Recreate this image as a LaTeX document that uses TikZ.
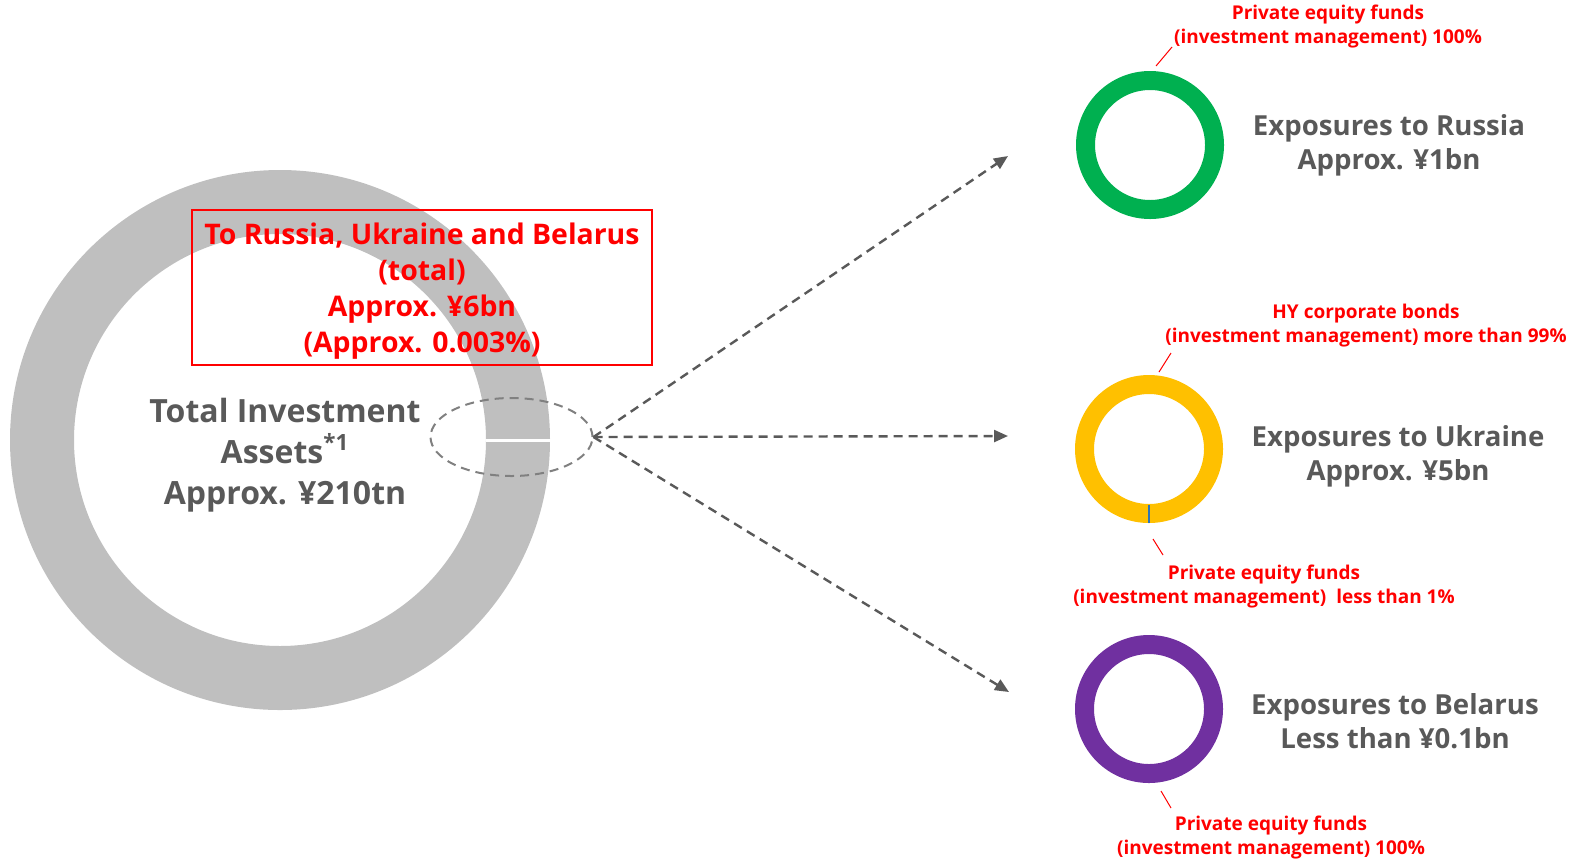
\documentclass[tikz,border=0pt]{standalone}
\usepackage{fontspec}
\setmainfont{Open Sans}
\usetikzlibrary{arrows.meta,shapes.geometric}
\definecolor{ringgray}{HTML}{BFBFBF}
\definecolor{txtgray}{HTML}{595959}
\definecolor{dashgray}{HTML}{808080}
\definecolor{rusgreen}{HTML}{00B050}
\definecolor{ukryellow}{HTML}{FFC000}
\definecolor{blrpurple}{HTML}{7030A0}
\definecolor{markblue}{HTML}{2E75B6}

\begin{document}
\begin{tikzpicture}[x=0.5pt, y=-0.5pt,
	bigtxt/.style = {font=\bfseries\fontsize{13.8}{17}\selectfont, text=txtgray, align=center},
	totaltxt/.style = {font=\bfseries\fontsize{16}{20.5}\selectfont, text=txtgray, align=center},
	boxtxt/.style = {font=\bfseries\fontsize{14.2}{18}\selectfont, text=red, align=center},
	notetxt/.style = {font=\bfseries\fontsize{9.5}{12}\selectfont, text=red, align=center},
	leader/.style = {red, line width=0.5pt},
	ring/.style = {line width=9.5pt},
	flow/.style = {txtgray, line width=1.2pt, dash pattern=on 4.5pt off 3pt, -{Triangle[length=7pt, width=6pt]}}]
	\useasboundingbox (0, 0) rectangle (1573, 858);
	
	% big ring
	\fill[ringgray, even odd rule] (280, 440) circle (270) (280, 440) circle (206);
	\fill[white] (486, 438.5) rectangle (553, 441.5);
	
	\node[totaltxt] (total) at (285, 455) {Total Investment\\Assets\textsuperscript{*1}\\Approx. ¥210tn};
	\node[boxtxt, draw=red, line width=1pt, minimum width=230pt, minimum height=77.5pt, inner sep=0pt] (sum) at (422, 287.5) {};
	\node[boxtxt] (sumtxt) at (422, 291.5) {To Russia, Ukraine and Belarus\\(total)\\Approx. ¥6bn\\(Approx. 0.003\%)};
	
	\node[ellipse, draw=dashgray, dash pattern=on 4.5pt off 3pt, line width=1pt, minimum width=81pt, minimum height=39pt, inner sep=0pt] (zoom) at (511.5, 437) {};
	
	% small rings
	\draw[ring, rusgreen] (1150, 145) circle (64.5);
	\draw[ring, ukryellow] (1149, 449) circle (64.5);
	\draw[markblue, line width=0.6pt] (1149, 505) -- (1149, 523);
	\draw[ring, blrpurple] (1149, 709) circle (64.5);
	
	\coordinate (rus) at (1008, 156);
	\coordinate (ukr) at (1008, 436);
	\coordinate (blr) at (1009, 692);
	\draw[flow] (zoom.east) -- (rus);
	\draw[flow] (zoom.east) -- (ukr);
	\draw[flow] (zoom.east) -- (blr);
	
	\node[bigtxt] (rustxt) at (1389, 145) {Exposures to Russia\\Approx. ¥1bn};
	\node[bigtxt] (ukrtxt) at (1398, 456) {Exposures to Ukraine\\Approx. ¥5bn};
	\node[bigtxt] (blrtxt) at (1395, 721) {Exposures to Belarus\\Less than ¥0.1bn};
	
	% notes
	\node[notetxt] (rusnote) at (1328, 27) {Private equity funds\\(investment management) 100\%};
	\node[notetxt] (ukrnote) at (1366, 326) {HY corporate bonds\\(investment management) more than 99\%};
	\node[notetxt] (ukrnote2) at (1264, 586) {Private equity funds\\(investment management)\ \ less than 1\%};
	\node[notetxt] (blrnote) at (1271, 837) {Private equity funds\\(investment management) 100\%};
	
	\draw[leader] (1156, 66) -- (1172, 47);
	\draw[leader] (1159, 372) -- (1171, 353);
	\draw[leader] (1153, 539) -- (1163, 555);
	\draw[leader] (1161, 791) -- (1171, 808);
\end{tikzpicture}
\end{document}
